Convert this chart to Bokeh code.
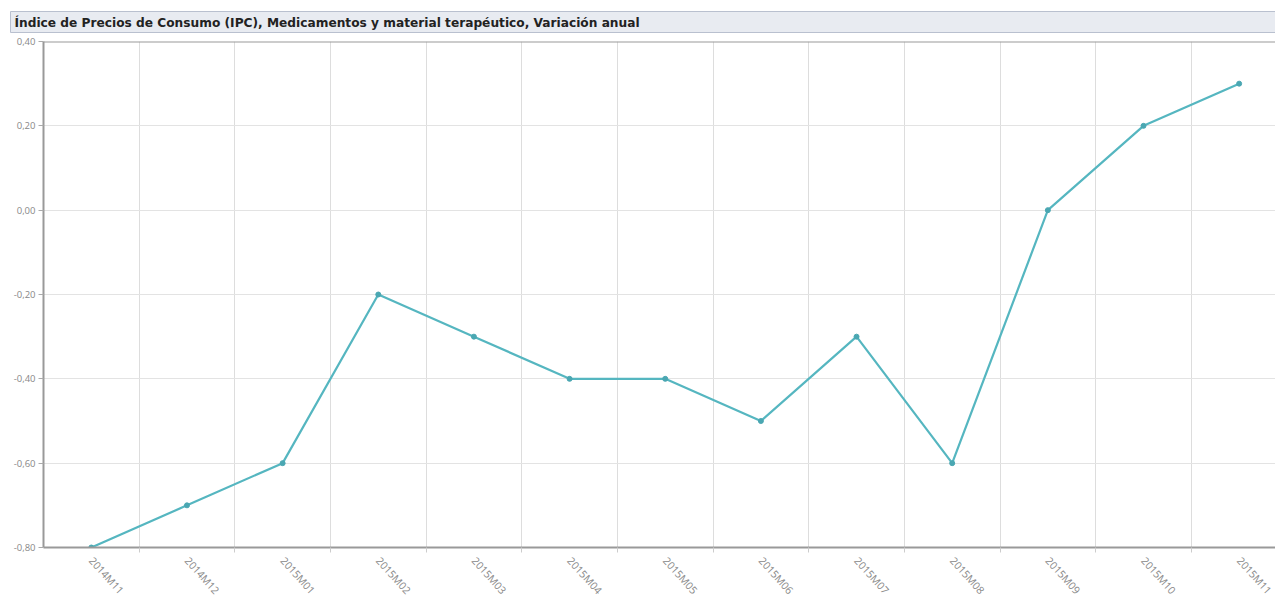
from bokeh.plotting import figure
from bokeh.models import FixedTicker, Range1d, Title, Span
from bokeh.embed import file_html
from bokeh.resources import INLINE

periods = ["2014M11", "2014M12", "2015M01", "2015M02", "2015M03", "2015M04", "2015M05",
           "2015M06", "2015M07", "2015M08", "2015M09", "2015M10", "2015M11"]
values = [-0.8, -0.7, -0.6, -0.2, -0.3, -0.4, -0.4, -0.5, -0.3, -0.6, 0.0, 0.2, 0.3]
y_ticks = [-0.8, -0.6, -0.4, -0.2, 0.0, 0.2, 0.4]
y_labels = ["-0,80", "-0,60", "-0,40", "-0,20", "0,00", "0,20", "0,40"]

xs = list(range(len(periods)))

p = figure(width=1275, height=604, output_backend="svg", toolbar_location=None,
           x_range=Range1d(-0.5, 12.38), y_range=Range1d(-0.8, 0.4),
           min_border_left=43, min_border_right=0, min_border_top=7, min_border_bottom=0)

p.title = Title(text="Índice de Precios de Consumo (IPC), Medicamentos y material terapéutico, Variación anual",
                text_font="DejaVu Sans", text_font_size="12.2px", text_font_style="bold",
                text_color="#222222", background_fill_color="#e8ebf1",
                border_line_color="#b9c0cf", offset=-33, standoff=18,
                padding=(4, 700, 4, 3))

p.line(xs, values, line_color="#55b6c0", line_width=2.2)
p.scatter(xs, values, size=5, fill_color="#4aa7b2", line_color="#4aa7b2")

p.xaxis.ticker = FixedTicker(ticks=xs, minor_ticks=[i + 0.5 for i in xs])
p.xaxis.major_label_overrides = {i: s for i, s in enumerate(periods)}
p.xaxis.major_label_orientation = -0.84
p.xaxis.major_tick_line_color = None
p.xaxis.major_tick_out = 0
p.xaxis.major_tick_in = 0
p.xaxis.minor_tick_out = 5
p.xaxis.minor_tick_in = 0
p.xaxis.minor_tick_line_color = "#cccccc"
p.xaxis.major_label_text_font = "Open Sans"
p.xaxis.major_label_text_font_size = "10.5px"
p.xaxis.major_label_text_color = "#888888"
p.xaxis.major_label_standoff = 6
p.xaxis.axis_line_color = "#999999"
p.xaxis.axis_line_width = 2

p.yaxis.ticker = FixedTicker(ticks=y_ticks)
p.yaxis.major_label_overrides = {t: s for t, s in zip(y_ticks, y_labels)}
p.yaxis.major_label_text_font = "Open Sans"
p.yaxis.major_label_text_font_size = "9.5px"
p.yaxis.major_label_text_color = "#888888"
p.yaxis.major_tick_out = 5
p.yaxis.major_tick_in = 0
p.yaxis.major_tick_line_color = "#aaaaaa"
p.yaxis.minor_tick_line_color = None
p.yaxis.major_label_standoff = 3
p.yaxis.axis_line_color = "#999999"
p.yaxis.axis_line_width = 2

p.xgrid.ticker = FixedTicker(ticks=[i + 0.5 for i in xs])
p.xgrid.grid_line_color = "#dddddd"
p.ygrid.grid_line_color = "#e3e3e3"
p.outline_line_color = None
p.add_layout(Span(location=0.4, dimension="width", line_color="#999999", line_width=2))

open("out.html", "w").write(file_html(p, INLINE))
